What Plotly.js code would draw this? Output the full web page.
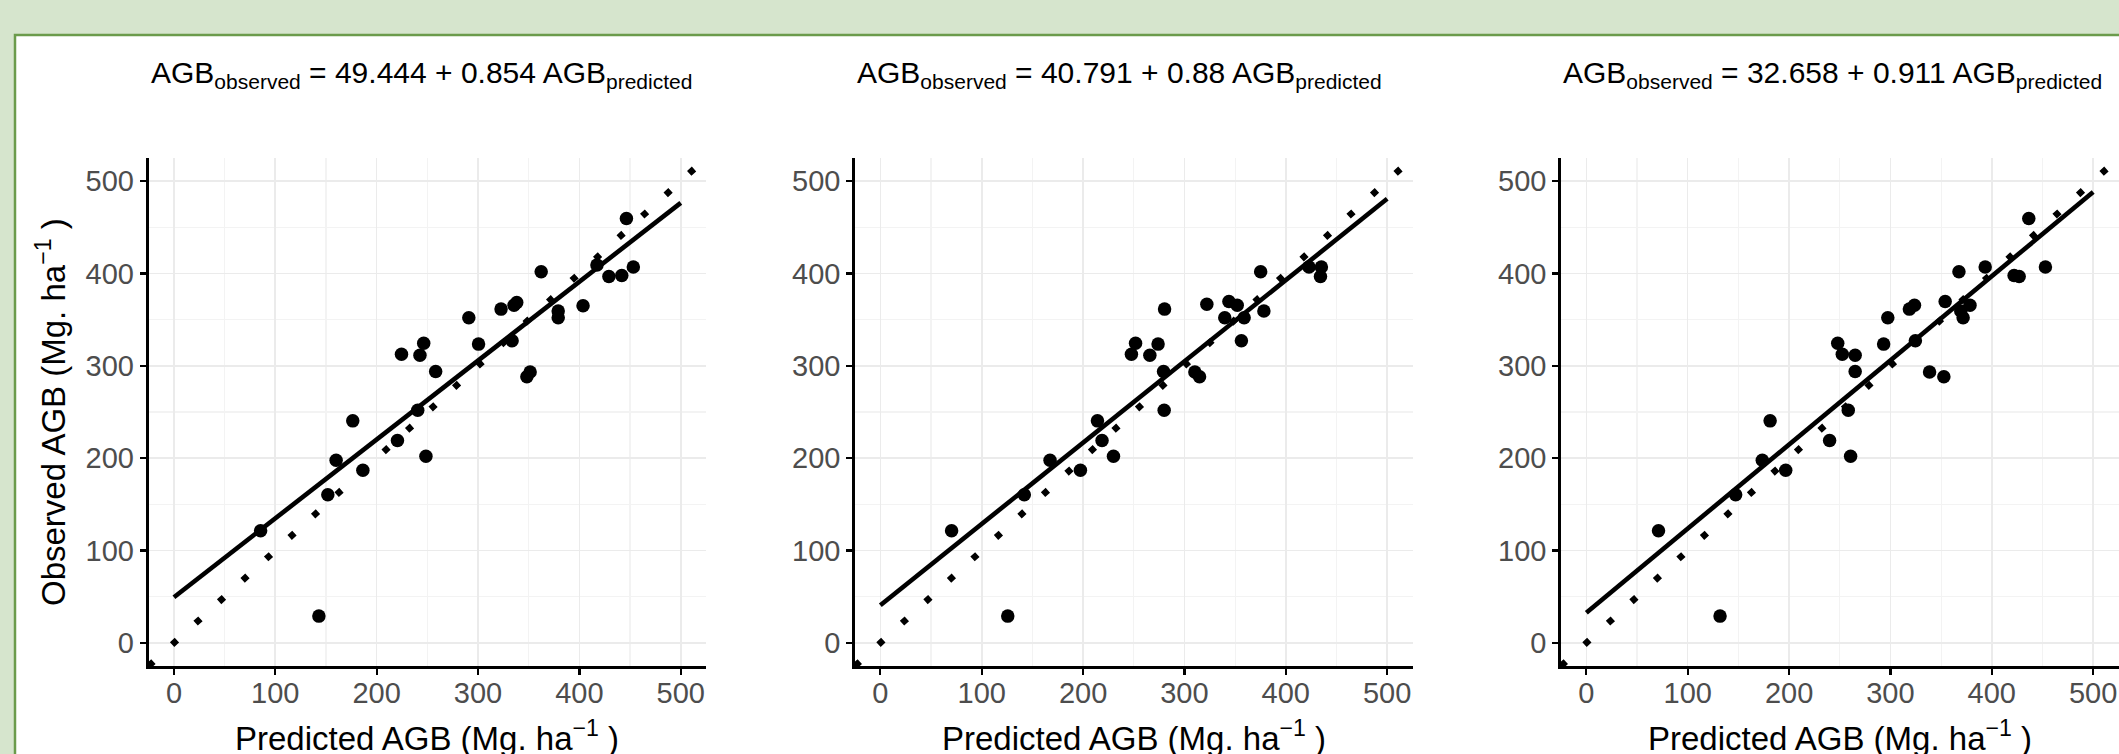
<!DOCTYPE html>
<html>
<head>
<meta charset="utf-8">
<script src="https://cdn.plot.ly/plotly-3.0.1.min.js"></script>
<style>
html,body{margin:0;padding:0;background:#d6e5cd;}
#chart{width:2119px;height:754px;}
</style>
</head>
<body>
<div id="chart"></div>
<script>
// ---- data ----
const titles = [
  "AGB<sub>observed</sub> = 49.444 + 0.854 AGB<sub>predicted</sub>",
  "AGB<sub>observed</sub> = 40.791 + 0.88 AGB<sub>predicted</sub>",
  "AGB<sub>observed</sub> = 32.658 + 0.911 AGB<sub>predicted</sub>"
];
const intercepts = [49.444, 40.791, 32.658];
const slopes = [0.854, 0.88, 0.911];

const p1Predicted = [85.5,143,151.8,160,176.4,186.4,220.5,224.5,240.5,242.7,246.4,248.6,258.2,290.9,300.5,322.7,333.6,335.5,338.2,348.2,351.4,362.3,379.1,379.1,403.6,417.3,429.1,441.8,446.4,453.2];
const p1Observed  = [121.5,29,160.4,197.8,240.4,186.9,219.1,312.6,251.8,311.5,324.5,202,293.9,352,323.5,361.4,327.1,365.5,368.6,288.2,293.4,401.9,359.3,352,365,409.1,396.7,397.7,459.5,407];

const p2Predicted = [70.3,125.7,142,167.4,197.4,214.2,218.7,230,247.7,251.8,265.9,274,279.4,280,280.4,310.3,314.9,322.1,339.8,343.9,352.1,356.2,358.9,375.2,378.4,422.9,435.1,434.2];
const p2Observed  = [121.5,29,160.4,197.8,186.9,240.4,219.1,202,312.6,324.5,311.5,323.5,293.9,251.8,361.4,293.4,288.2,366.6,352,369.7,365.5,327.1,352,401.9,359.3,407,407,396.7];

const p3Predicted = [71.2,131.9,147.3,173.6,181.3,196.7,240,248,252.5,258.4,260.7,265.2,265.2,293.3,297.4,318.7,323.7,324.6,338.6,352.7,354,367.6,369.4,371.7,378.5,393.5,422,427,436.5,452.9];
const p3Observed  = [121.5,29,160.4,197.8,240.4,186.9,219.1,324.5,312.6,251.8,202,311.5,293.9,323.5,352,361.4,365.5,327.1,293.4,288.2,369.7,401.9,359.3,352,365.5,407,397.7,396.7,459.5,407];

const tickVals = [0,100,200,300,400,500];
const axisRange = [-25, 525];
const fitRange = [0, 500];
const xTitle = "Predicted AGB (Mg. ha<sup>\u22121</sup> )";
const yTitle = "Observed AGB (Mg. ha<sup>\u22121</sup> )";

// ---- layout geometry (px) ----
const W = 2119, H = 754;
const panelLeft = [148.6, 855, 1561];
const panelWidth = 557.5;
const panelTop = 158, panelBottom = 666;

const FONT = "Liberation Sans, Arial, Helvetica, sans-serif";
const px2x = v => v / W;
const px2y = v => (H - v) / H;

const preds = [p1Predicted, p2Predicted, p3Predicted];
const obs = [p1Observed, p2Observed, p3Observed];

const traces = [];
const layout = {
  width: W, height: H,
  margin: {l:0, r:0, t:0, b:0},
  paper_bgcolor: "#d6e5cd",
  plot_bgcolor: "#ffffff",
  showlegend: false,
  font: {family: FONT, color: "#000"},
  shapes: [{
    type: "rect", xref: "paper", yref: "paper", layer: "below",
    x0: px2x(15), x1: 1.02, y0: -0.05, y1: px2y(35),
    fillcolor: "#ffffff", line: {color: "#6b9b4b", width: 2.5}
  }],
  annotations: []
};

for (let i = 0; i < 3; i++) {
  const sfx = i === 0 ? "" : String(i + 1);
  const xa = "x" + sfx, ya = "y" + sfx;
  // 1:1 dotted line
  traces.push({
    type: "scatter", mode: "lines", xaxis: xa, yaxis: ya,
    x: axisRange, y: axisRange,
    line: {color: "#000", width: 6.5, dash: "6.5px,25.3px"},
    hoverinfo: "skip"
  });
  // fitted line
  traces.push({
    type: "scatter", mode: "lines", xaxis: xa, yaxis: ya,
    x: fitRange, y: fitRange.map(v => intercepts[i] + slopes[i] * v),
    line: {color: "#000", width: 4.6}
  });
  // points
  traces.push({
    type: "scatter", mode: "markers", xaxis: xa, yaxis: ya,
    x: preds[i], y: obs[i],
    marker: {color: "#000", size: 13.5, line: {width: 0}}
  });

  const axCommon = {
    range: axisRange, autorange: false,
    tickvals: tickVals, ticktext: tickVals.map(String),
    showgrid: true, gridcolor: "#ebebeb", gridwidth: 1.6,
    minor: {dtick: 50, tick0: 0, showgrid: true, gridcolor: "#f3f3f3", gridwidth: 1.2, ticks: ""},
    zeroline: false, showline: true, linecolor: "#000", linewidth: 2.8,
    ticks: "outside", ticklen: 6, tickwidth: 2.2, tickcolor: "#000",
    tickfont: {family: FONT, size: 29, color: "#4d4d4d"},
    fixedrange: true
  };
  layout["xaxis" + sfx] = Object.assign({}, axCommon, {
    anchor: ya, ticklabelstandoff: -7,
    domain: [px2x(panelLeft[i]), px2x(panelLeft[i] + panelWidth)]
  });
  layout["yaxis" + sfx] = Object.assign({}, axCommon, {
    anchor: xa,
    domain: [px2y(panelBottom), px2y(panelTop)]
  });

  // panel title
  layout.annotations.push({
    xref: "paper", yref: "paper",
    x: px2x(panelLeft[i]), y: px2y(75),
    xanchor: "left", yanchor: "middle",
    text: titles[i], showarrow: false,
    font: {family: FONT, size: 30, color: "#000"}
  });
  // x axis title
  layout.annotations.push({
    xref: "paper", yref: "paper",
    x: px2x(panelLeft[i] + panelWidth / 2), y: px2y(736),
    xanchor: "center", yanchor: "middle",
    text: xTitle, showarrow: false,
    font: {family: FONT, size: 33, color: "#000"}
  });
}
// y axis title (first panel only)
layout.annotations.push({
  xref: "paper", yref: "paper",
  x: px2x(51), y: px2y((panelTop + panelBottom) / 2),
  xanchor: "center", yanchor: "middle", textangle: -90,
  text: yTitle, showarrow: false,
  font: {family: FONT, size: 33, color: "#000"}
});

Plotly.newPlot("chart", traces, layout, {displayModeBar: false, staticPlot: true});
</script>
</body>
</html>
